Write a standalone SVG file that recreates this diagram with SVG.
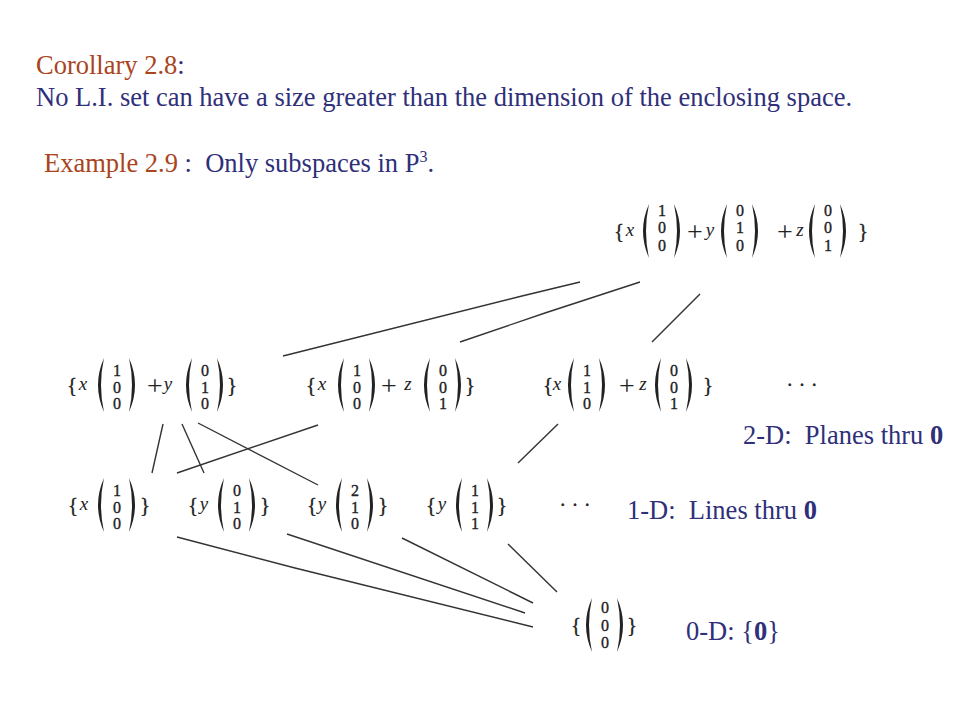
<svg xmlns="http://www.w3.org/2000/svg" width="960" height="720" viewBox="0 0 960 720">
<style>
.h{font-family:"Liberation Serif","Times New Roman",serif;font-size:26.5px;fill:#2f2f7a;white-space:pre}
.b{fill:#a9441d}
.m{font-family:"Liberation Serif","Times New Roman",serif;font-size:16px;fill:#222;stroke:#222;stroke-width:0.35;text-anchor:middle}
.v{font-family:"Liberation Serif","Times New Roman",serif;font-size:19px;fill:#222;font-style:italic;text-anchor:middle}
.br{font-family:"Liberation Serif","Times New Roman",serif;font-size:21px;fill:#222;stroke:#222;stroke-width:0.3;text-anchor:middle}
.pl{font-family:"Liberation Serif","Times New Roman",serif;font-size:28px;fill:#222;text-anchor:middle}
.c{stroke:#333;stroke-width:1.4;fill:none}
</style>
<defs>
<path id="lp" d="M8,0 Q-4,27 8,54 Q2,27 8,0 Z" fill="#222"/>
<path id="rp" d="M0,0 Q12,27 0,54 Q6,27 0,0 Z" fill="#222"/>
</defs>
<rect width="960" height="720" fill="#fff"/>

<text class="h" x="36" y="74"><tspan class="b">Corollary 2.8</tspan>:</text>
<text class="h" x="36" y="106">No L.I. set can have a size greater than the dimension of the enclosing space.</text>
<text class="h" x="44" y="172"><tspan class="b">Example 2.9</tspan> :  Only subspaces in P<tspan font-size="16" dy="-10">3</tspan><tspan dy="10">.</tspan></text>

<g id="connectors">
<polyline class="c" points="283,356 522,296 580,282"/>
<polyline class="c" points="460,342 545,313 640,282"/>
<line class="c" x1="652" y1="342" x2="700" y2="294"/>
<line class="c" x1="163" y1="424" x2="152" y2="473"/>
<line class="c" x1="182" y1="424" x2="204" y2="473"/>
<line class="c" x1="198" y1="423" x2="318" y2="485"/>
<line class="c" x1="177" y1="473" x2="318" y2="425"/>
<line class="c" x1="518" y1="463" x2="558" y2="424"/>
<polyline class="c" points="177,537 295,568 533,627"/>
<line class="c" x1="287" y1="534" x2="525" y2="613"/>
<line class="c" x1="402" y1="538" x2="533" y2="603"/>
<line class="c" x1="508" y1="544" x2="557" y2="592"/>
</g>

<g id="node-3d">
<text class="br" x="619" y="238">{</text><text class="v" x="630" y="236">x</text>
<use href="#lp" x="641" y="204"/><use href="#rp" x="674" y="204"/>
<text class="m" x="662" y="216">1</text><text class="m" x="662" y="233">0</text><text class="m" x="662" y="251">0</text>
<text class="pl" x="695" y="241">+</text><text class="v" x="710" y="236">y</text>
<use href="#lp" x="719" y="204"/><use href="#rp" x="752" y="204"/>
<text class="m" x="740" y="216">0</text><text class="m" x="740" y="233">1</text><text class="m" x="740" y="251">0</text>
<text class="pl" x="785" y="241">+</text><text class="v" x="800" y="236">z</text>
<use href="#lp" x="807" y="204"/><use href="#rp" x="840" y="204"/>
<text class="m" x="828" y="216">0</text><text class="m" x="828" y="233">0</text><text class="m" x="828" y="251">1</text>
<text class="br" x="863" y="238">}</text>
</g>

<g id="node-xy">
<text class="br" x="72" y="392">{</text><text class="v" x="83" y="390">x</text>
<use href="#lp" x="96" y="358"/><use href="#rp" x="129" y="358"/>
<text class="m" x="117" y="376">1</text><text class="m" x="117" y="393">0</text><text class="m" x="117" y="409">0</text>
<text class="pl" x="155" y="395">+</text><text class="v" x="168" y="390">y</text>
<use href="#lp" x="184" y="358"/><use href="#rp" x="217" y="358"/>
<text class="m" x="205" y="376">0</text><text class="m" x="205" y="393">1</text><text class="m" x="205" y="409">0</text>
<text class="br" x="232" y="392">}</text>
</g>

<g id="node-xz">
<text class="br" x="311" y="392">{</text><text class="v" x="322" y="390">x</text>
<use href="#lp" x="336" y="358"/><use href="#rp" x="369" y="358"/>
<text class="m" x="357" y="376">1</text><text class="m" x="357" y="393">0</text><text class="m" x="357" y="409">0</text>
<text class="pl" x="389" y="395">+</text><text class="v" x="408" y="390">z</text>
<use href="#lp" x="422" y="358"/><use href="#rp" x="455" y="358"/>
<text class="m" x="443" y="376">0</text><text class="m" x="443" y="393">0</text><text class="m" x="443" y="409">1</text>
<text class="br" x="470" y="392">}</text>
</g>

<g id="node-x110z">
<text class="br" x="548" y="392">{</text><text class="v" x="557" y="390">x</text>
<use href="#lp" x="566" y="358"/><use href="#rp" x="599" y="358"/>
<text class="m" x="587" y="376">1</text><text class="m" x="587" y="393">1</text><text class="m" x="587" y="409">0</text>
<text class="pl" x="627" y="395">+</text><text class="v" x="643" y="390">z</text>
<use href="#lp" x="653" y="358"/><use href="#rp" x="686" y="358"/>
<text class="m" x="674" y="376">0</text><text class="m" x="674" y="393">0</text><text class="m" x="674" y="409">1</text>
<text class="br" x="708" y="392">}</text>
<text class="br" x="802" y="392">· · ·</text>
</g>

<g id="node-x">
<text class="br" x="73" y="512">{</text><text class="v" x="84" y="510">x</text>
<use href="#lp" x="96" y="478"/><use href="#rp" x="129" y="478"/>
<text class="m" x="117" y="496">1</text><text class="m" x="117" y="513">0</text><text class="m" x="117" y="529">0</text>
<text class="br" x="145" y="512">}</text>
</g>

<g id="node-y">
<text class="br" x="193" y="512">{</text><text class="v" x="204" y="510">y</text>
<use href="#lp" x="216" y="478"/><use href="#rp" x="249" y="478"/>
<text class="m" x="237" y="496">0</text><text class="m" x="237" y="513">1</text><text class="m" x="237" y="529">0</text>
<text class="br" x="265" y="512">}</text>
</g>

<g id="node-y210">
<text class="br" x="312" y="512">{</text><text class="v" x="322" y="510">y</text>
<use href="#lp" x="334" y="478"/><use href="#rp" x="367" y="478"/>
<text class="m" x="355" y="496">2</text><text class="m" x="355" y="513">1</text><text class="m" x="355" y="529">0</text>
<text class="br" x="383" y="512">}</text>
</g>

<g id="node-y111">
<text class="br" x="431" y="512">{</text><text class="v" x="442" y="510">y</text>
<use href="#lp" x="454" y="478"/><use href="#rp" x="487" y="478"/>
<text class="m" x="475" y="496">1</text><text class="m" x="475" y="513">1</text><text class="m" x="475" y="529">1</text>
<text class="br" x="502" y="512">}</text>
<text class="br" x="575" y="512">· · ·</text>
</g>

<g id="node-0">
<text class="br" x="576" y="632">{</text>
<use href="#lp" x="584" y="598"/><use href="#rp" x="617" y="598"/>
<text class="m" x="605" y="613">0</text><text class="m" x="605" y="631">0</text><text class="m" x="605" y="648">0</text>
<text class="br" x="632" y="632">}</text>
</g>

<text class="h" x="743" y="444">2-D:  Planes thru <tspan font-weight="bold">0</tspan></text>
<text class="h" x="627" y="519">1-D:  Lines thru <tspan font-weight="bold">0</tspan></text>
<text class="h" x="686" y="640">0-D: {<tspan font-weight="bold">0</tspan>}</text>
</svg>
